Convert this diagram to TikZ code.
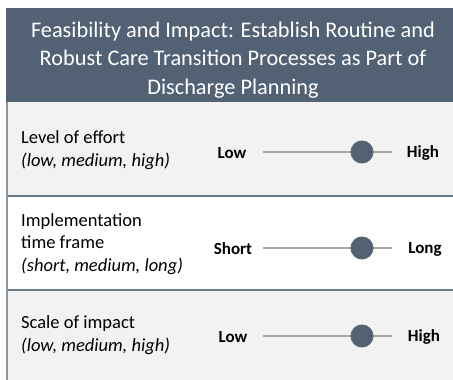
\documentclass[tikz,border=0pt]{standalone}
\usepackage{fontspec}
\setmainfont{Carlito}
\usepackage{tikz}

\definecolor{slate}{HTML}{536175}
\definecolor{bandgray}{HTML}{F2F2F2}
\definecolor{rulegray}{HTML}{A6A6A6}
\definecolor{edgegray}{HTML}{8E97A5}

\tikzset{
  rowlabel/.style={anchor=west, align=left, inner sep=0pt, font=\fontsize{18.5}{22.5}\selectfont},
  endlabel/.style={inner sep=0pt, font=\fontsize{17}{18}\selectfont\bfseries},
  knob/.style={circle, fill=slate, minimum size=23pt, inner sep=0pt},
  track/.style={rulegray, line width=1.2pt},
  sepline/.style={draw=slate!85, line width=1.5pt}
}

\begin{document}
\begin{tikzpicture}
  [x=1pt, y=-1pt]
  \useasboundingbox (0,0) rectangle (453,380);

  % background bands
  \fill[slate] (6,8) rectangle (453,102);
  \fill[bandgray] (6,102) rectangle (453,196);
  \fill[bandgray] (6,290) rectangle (453,380);
  \draw[sepline] (6,196) -- (453,196);
  \draw[sepline] (6,290) -- (453,290);
  \draw[edgegray, line width=2pt] (7,102) -- (7,380);

  \node (title) at (233,60) [text=white, align=center, font=\fontsize{22.3}{28.5}\selectfont]
    {Feasibility and Impact: Establish Routine and\\Robust Care Transition Processes as Part of\\Discharge Planning};

  \node (r1) at (21,150) [rowlabel] {Level of effort\\\textit{(low, medium, high)}};
  \node (r2) at (21,244) [rowlabel] {Implementation\\time frame\\\textit{(short, medium, long)}};
  \node (r3) at (21,335) [rowlabel] {Scale of impact\\\textit{(low, medium, high)}};

  \node (lo1) at (232,153) [endlabel] {Low};
  \node (hi1) at (423,153) [endlabel] {High};
  \node (lo2) at (233,249) [endlabel] {Short};
  \node (hi2) at (425,249) [endlabel] {Long};
  \node (lo3) at (233,337) [endlabel] {Low};
  \node (hi3) at (424,337) [endlabel] {High};

  \foreach \i/\y in {1/152,2/248,3/336} {
    \coordinate (a\i) at (263,\y);
    \coordinate (b\i) at (392,\y);
    \draw[track] (a\i) -- (b\i);
    \node (k\i) at (362,\y) [knob] {};
  }
\end{tikzpicture}
\end{document}
